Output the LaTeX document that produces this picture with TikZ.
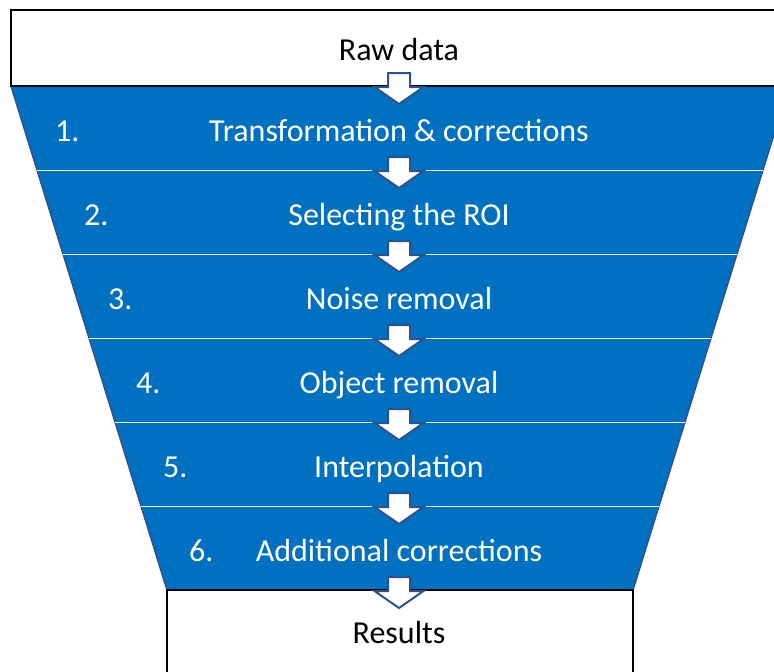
\documentclass[tikz,border=0pt]{standalone}
\usepackage{fontspec}
\setmainfont{Carlito}
\usetikzlibrary{positioning}

\definecolor{funnelblue}{HTML}{0070C0}
\definecolor{edgeblue}{HTML}{2F528F}

\begin{document}
\begin{tikzpicture}[
    x=1pt, y=-1pt,
    boxlabel/.style={inner sep=0pt, anchor=base, font=\fontsize{32}{37}\selectfont},
    stagelabel/.style={boxlabel, text=white},
    numlabel/.style={stagelabel, anchor=base west},
    endbox/.style={draw=black, line width=2pt, fill=white},
    funnelside/.style={draw=edgeblue, line width=1.5pt},
    divider/.style={draw=white, line width=0.8pt},
    flowarrow/.style={draw=edgeblue, line width=2pt, fill=white, line join=miter},
    pics/downarrow/.style={code={
        \draw[flowarrow] (-11,-13) -- (11,-13) -- (11,1) -- (24.5,1) -- (0,18)
            -- (-24.5,1) -- (-11,1) -- cycle;
    }}
]
\useasboundingbox (0,0) rectangle (774,672);
\clip (0,0) rectangle (774,672);

% Funnel
\fill[funnelblue] (11,86) -- (789,86) -- (633,590) -- (167,590) -- cycle;
\draw[funnelside] (11,86) -- (167,590);
\draw[funnelside] (789,86) -- (633,590);
\foreach \i in {1,...,5}
    \draw[divider] ({11+0.3095*84*\i},{86+84*\i}) -- ({789-0.3095*84*\i},{86+84*\i});

% Input and output
\draw[endbox] (11,10) rectangle (789,86);
\draw[endbox] (167,590) rectangle (633,700);
\node[boxlabel] (Raw) at (399,60) {Raw data};
\node[boxlabel] (Results) at (399,643) {Results};

% Stages
\foreach \txt/\nx [count=\i] in {Transformation \& corrections/55,
        Selecting the ROI/84, Noise removal/108, Object removal/136,
        Interpolation/163, Additional corrections/189} {
    \node[stagelabel] (Stage\i) at (399,{141+84*(\i-1)}) {\txt};
    \node[numlabel] (Num\i) at (\nx,{141+84*(\i-1)}) {\i.};
}

% Arrows between the steps
\foreach \i in {0,...,6}
    \coordinate (Step\i) at (399,{86+84*\i});
\foreach \i in {0,...,6}
    \pic at (Step\i) {downarrow};

\end{tikzpicture}
\end{document}
